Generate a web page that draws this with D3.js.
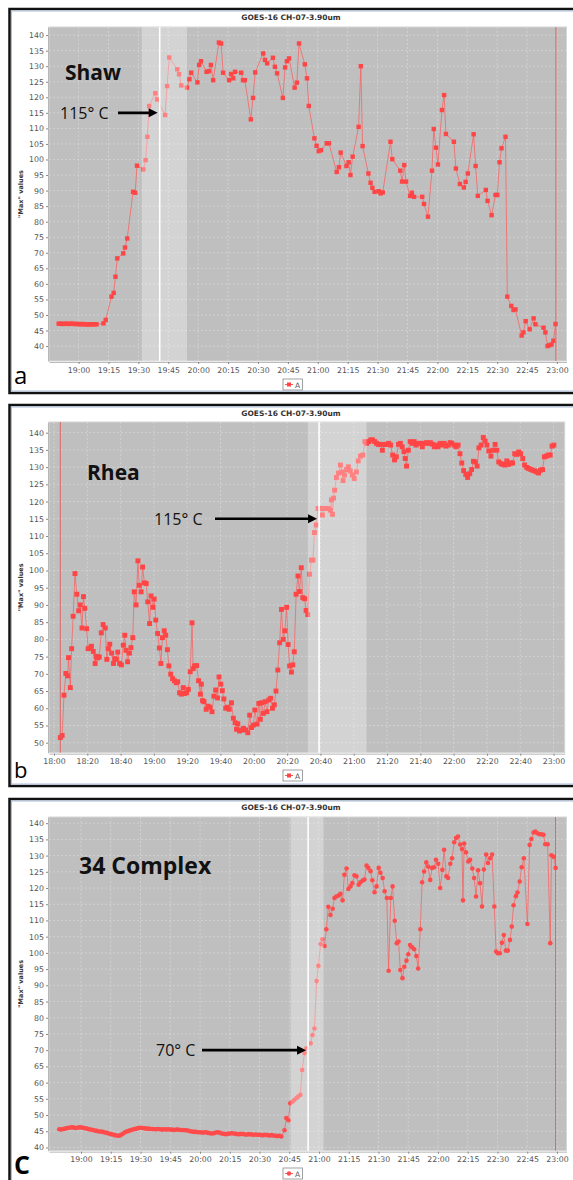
<!DOCTYPE html>
<html>
<head>
<meta charset="utf-8">
<script src="https://cdn.jsdelivr.net/npm/d3@7/dist/d3.min.js"></script>
<style>
  body { margin: 0; background: #fff; }
  svg text { font-family: "DejaVu Sans", sans-serif; }
</style>
</head>
<body>
<svg id="fig" width="573" height="1180"></svg>
<script>
// ---- data: minutes after 18:00 UTC, "Max" values ----
const shawMin = [50, 51, 52, 53, 54, 55, 56, 57, 58, 59, 60, 61, 62, 63, 64, 65, 66, 67, 68, 69,
  72.5, 73.6, 76.5, 77.6, 78.5, 79.4, 82.4, 83.3, 84.4, 87.3, 88.4, 89.3, 92.5, 93.6, 94.5, 95.4,
  98.5, 99.4, 103.4, 104.4, 105.5, 109.5, 110.4, 111.5, 114.4, 115.6, 116.5, 119.6, 120.5, 121.4,
  124.2, 125.4, 126.4, 127.5, 130.4, 131.5, 132.5, 135.5, 136.5, 137.6, 138.5, 141.6, 142.5, 143.4,
  146.4, 147.5, 148.6, 152.6, 153.5, 154.6, 157.5, 158.5, 159.6, 162.5, 163.6, 164.5, 165.6, 168.4,
  169.5, 170.6, 173.5, 174.6, 175.5, 178.3, 179.4, 180.5, 181.6, 184.5, 185.6, 189.5, 190.6, 191.5,
  194.4, 195.5, 196.4, 197.5, 200.5, 201.6, 202.5, 205.4, 206.5, 207.4, 208.5, 210.6, 211.5, 212.6,
  216.5, 217.4, 221.4, 222.3, 223.4, 224.3, 226.3, 227.2, 228.3, 232.4, 233.3, 235.3, 237.3, 238.2,
  239.3, 240.3, 242.3, 243.4, 244.3, 248.3, 249.3, 251.3, 253.3, 254.2, 255.3, 258.2, 259.2, 260.3,
  264.3, 265.2, 267.2, 269.2, 270.1, 271.2, 272.2, 274.2, 275.1, 277.1, 278.2, 279.2, 282.3, 283.2,
  284.3, 286.3, 288.3, 289.2, 293.3, 294.2, 295.3, 296.2, 297.3, 298.2, 299.3];
const shawVal = [47.2, 47.2, 47.1, 47.2, 47.2, 47.1, 47.2, 47.2, 47.1, 47.1, 47.1, 47.0, 47.1, 47.0, 47.0, 46.9, 47.0, 47.0, 47.0, 47.0,
  47.3, 48.4, 55.9, 57.1, 62.3, 68.2, 69.8, 71.7, 74.6, 89.6, 89.3, 98.0, 96.8, 99.8, 107.3, 117.2,
  121.3, 119.3, 114.3, 123.6, 132.8, 129.0, 127.4, 123.8, 123.1, 125.8, 127.9, 124.8, 130.4, 131.6,
  128.2, 128.4, 130.4, 125.5, 137.6, 137.3, 127.9, 125.5, 127.5, 126.1, 128.2, 127.9, 125.5, 125.5,
  112.9, 119.8, 128.0, 134.1, 132.0, 130.9, 132.7, 129.8, 127.7, 119.8, 129.6, 131.6, 132.5, 123.1,
  124.7, 137.3, 130.6, 126.1, 117.2, 106.8, 104.4, 102.7, 103.0, 105.2, 105.2, 96.0, 97.5, 102.2,
  97.9, 99.1, 95.0, 100.9, 110.5, 130.0, 104.3, 95.5, 92.5, 90.9, 89.6, 89.8, 89.1, 89.4,
  105.7, 100.1, 96.4, 92.9, 98.2, 92.9, 88.3, 89.3, 88.0, 88.0, 85.7, 81.6, 96.4, 109.8,
  103.8, 98.4, 115.9, 120.7, 108.2, 105.7, 97.1, 92.1, 91.0, 92.8, 95.5, 108.1, 97.9, 88.3,
  90.2, 86.7, 82.1, 88.6, 88.6, 99.1, 103.6, 107.3, 55.9, 52.9, 51.6, 51.8, 43.4, 44.4,
  48.0, 45.4, 48.9, 47.0, 45.9, 44.4, 40.0, 40.3, 40.5, 41.7, 47.1];

const rheaMin = [3.8, 4.9, 6.0, 7.1, 8.2, 8.7, 9.8, 10.6, 11.5, 12.6, 13.7, 14.8, 15.7, 16.8, 17.7, 18.5,
  19.6, 20.5, 21.6, 22.5, 23.6, 24.7, 25.3, 25.8, 26.4, 27.2, 28.4, 29.5, 30.8, 31.7, 32.6, 33.5,
  34.6, 35.7, 36.5, 37.4, 38.3, 39.4, 40.5, 41.6, 42.5, 43.3, 44.2, 45.3, 46.2, 47.3, 48.2, 49.3,
  50.4, 51.2, 52.3, 53.2, 54.3, 55.4, 56.3, 57.4, 58.3, 59.4, 60.2, 61.1, 62.2, 63.3, 64.2, 65.1,
  66.2, 67.1, 68.1, 69.0, 70.1, 71.2, 72.3, 73.4, 74.3, 75.4, 76.5, 77.6, 78.5, 79.6, 80.7, 81.8,
  82.9, 83.6, 84.4, 85.7, 86.8, 87.9, 88.5, 89.2, 90.1, 91.4, 92.5, 93.6, 94.9, 96.0, 97.1, 98.2,
  99.1, 100.2, 101.1, 102.0, 103.1, 104.2, 105.2, 106.6, 107.7, 108.8, 109.6, 110.4, 111.4, 112.7,
  113.8, 115.1, 116.4, 117.5, 118.6, 119.7, 120.6, 121.9, 123.0, 123.9, 124.6, 125.7, 126.8, 127.9,
  129.0, 130.1, 131.2, 132.3, 133.3, 134.4, 135.5, 136.6, 137.7, 138.6, 139.7, 140.6, 141.5, 142.6,
  143.4, 144.3, 145.4, 146.5, 147.4, 148.5, 149.4, 150.5, 151.4, 152.4, 153.5, 154.6, 155.5, 156.4,
  157.5, 158.6, 159.9, 161.2, 162.3, 163.6, 164.7, 166.0, 166.6, 167.2, 167.9, 168.5, 169.6, 170.9,
  172.0, 173.1, 173.6, 174.4, 175.7, 176.8, 177.9, 179.2, 180.3, 181.6, 182.7, 184.1, 185.4, 186.7,
  187.8, 188.9, 190.2, 191.3, 192.6, 193.7, 194.8, 196.1, 197.2, 198.6, 199.6, 201.0, 202.1, 203.4,
  204.5, 205.6, 206.9, 208.0, 209.1, 210.2, 210.9, 211.7, 212.8, 213.9, 215.2, 216.3, 217.4, 218.7,
  220.1, 221.2, 222.3, 223.6, 224.9, 226.0, 227.1, 228.4, 229.5, 230.6, 231.9, 233.0, 234.3, 235.4,
  236.8, 237.9, 238.9, 240.3, 241.4, 242.7, 243.8, 244.9, 246.0, 247.3, 248.4, 249.7, 250.8, 251.9,
  253.0, 254.1, 255.2, 256.5, 257.8, 258.9, 260.0, 261.1, 262.4, 263.5, 264.9, 265.9, 267.1, 268.4,
  269.5, 270.8, 271.9, 273.0, 274.3, 275.4, 276.7, 277.8, 279.1, 280.2, 281.5, 282.6, 283.9, 285.0,
  286.4, 287.5, 288.6, 289.9, 291.0, 292.1, 293.4, 294.5, 295.8, 296.9, 298.0, 299.1, 300.2];
const rheaVal = [51.5, 52.1, 63.8, 70.1, 69.4, 74.7, 66.0, 77.3, 86.7, 99.1, 93.1, 88.3, 90.0, 83.3, 92.4, 89.0,
  83.1, 77.3, 77.5, 78.0, 76.5, 73.0, 75.1, 74.6, 74.7, 74.9, 81.9, 84.3, 83.3, 74.2, 77.3, 78.6,
  76.0, 73.0, 74.4, 74.2, 76.3, 73.0, 72.6, 78.3, 81.2, 76.8, 73.5, 76.0, 77.6, 80.5, 93.8, 90.0,
  102.8, 95.7, 93.8, 101.0, 96.4, 96.2, 90.9, 84.6, 92.6, 89.3, 91.7, 85.6, 81.7, 77.5, 73.0, 80.5,
  82.5, 81.2, 77.0, 72.3, 69.9, 68.6, 68.0, 67.4, 67.7, 64.5, 64.1, 66.0, 64.3, 64.5, 65.5, 70.6,
  84.8, 71.5, 72.3, 72.4, 68.0, 64.1, 67.0, 62.2, 61.9, 59.7, 60.6, 60.3, 59.0, 63.5, 65.3, 63.0,
  69.1, 67.0, 65.1, 62.7, 60.0, 60.3, 59.7, 61.6, 57.1, 55.8, 53.9, 55.5, 53.4, 53.7,
  54.2, 53.7, 52.9, 58.0, 54.4, 55.1, 59.5, 55.4, 61.4, 56.8, 61.6, 58.5, 61.9, 59.0,
  62.4, 62.9, 60.0, 61.0, 65.0, 71.1, 79.0, 88.7, 80.0, 82.5, 89.3, 78.5, 72.3, 70.5,
  72.6, 76.4, 93.1, 98.4, 93.9, 100.8, 92.1, 91.8, 88.4, 87.2, 98.9, 103.0, 103.0, 111.0,
  113.2, 118.0, 118.0, 116.1, 118.0, 118.0, 118.0, 117.5, 120.5, 116.3, 121.0, 123.3, 127.0, 128.3,
  130.6, 128.6, 126.1, 127.7, 129.3, 130.1, 128.9, 127.7, 126.7, 128.6, 131.8, 133.2, 133.5, 137.4,
  136.9, 137.4, 137.9, 137.9, 137.4, 136.9, 136.6, 136.6, 134.9, 136.6, 136.6, 136.9, 136.4, 133.5,
  132.1, 133.0, 136.6, 136.9, 135.9, 134.5, 132.5, 130.3, 134.9, 137.4, 136.9, 137.4, 136.4, 136.9,
  136.9, 135.9, 136.9, 137.1, 136.9, 137.1, 136.7, 135.9, 136.4, 135.9, 136.9, 136.4, 136.9, 136.1,
  136.4, 137.1, 136.9, 136.4, 135.9, 136.4, 133.9, 131.2, 129.0, 127.9, 127.0, 128.1, 129.3, 131.7,
  131.5, 130.3, 135.6, 136.4, 138.6, 137.6, 136.4, 134.7, 133.2, 134.9, 136.6, 134.9, 131.5, 131.0,
  130.8, 130.6, 131.8, 130.8, 131.2, 131.2, 133.9, 133.7, 134.4, 133.9, 132.5, 130.6, 129.9, 129.6,
  129.3, 129.1, 128.9, 128.6, 128.3, 129.1, 129.3, 133.0, 133.2, 133.5, 133.5, 136.1, 136.4];

const complexMin = [49, 50, 51, 52, 53, 54, 55, 56, 57, 58, 59, 60, 61, 62, 63, 64, 65, 66, 67, 68,
  69, 70, 71, 72, 73, 74, 75, 76, 77, 78, 79, 80, 81, 82, 83, 84, 85, 86, 87, 88,
  89, 90, 91, 92, 93, 94, 95, 96, 97, 98, 99, 100, 101, 102, 103, 104, 105, 106, 107, 108,
  109, 110, 111, 112, 113, 114, 115, 116, 117, 118, 119, 120, 121, 122, 123, 124, 125, 126, 127, 128,
  129, 130, 131, 132, 133, 134, 135, 136, 137, 138, 139, 140, 141, 142, 143, 144, 145, 146, 147, 148,
  149, 150, 151, 152, 153, 154, 155, 156, 157, 158, 159, 160, 161,
  162.6, 163.5, 164.6, 165.5, 166.6, 167.5, 168.6, 169.5, 170.6, 171.5, 172.7, 173.6, 175.8, 176.7,
  177.7, 178.8, 179.7, 180.8, 181.7, 182.8, 183.7, 184.7, 185.8, 186.9, 187.8, 188.7, 189.9, 190.8,
  191.9, 192.8, 193.9, 194.8, 195.9, 196.8, 197.9, 198.9, 200.0, 200.9, 202.0, 202.9, 204.0, 204.9,
  206.0, 206.9, 208.0, 209.0, 210.1, 211.0, 212.1, 213.1, 214.2, 215.1, 216.2, 217.1, 218.2, 219.2,
  220.1, 221.0, 222.1, 223.0, 224.1, 225.0, 225.9, 227.0, 228.0, 229.1, 230.0, 231.1, 232.0, 233.0,
  234.1, 235.0, 236.1, 237.0, 238.1, 239.0, 240.1, 241.1, 242.2, 243.1, 244.2, 245.1, 246.2, 247.1,
  248.2, 249.1, 250.1, 251.2, 252.1, 252.6, 253.2, 254.1, 255.3, 256.2, 257.3, 258.2, 259.2, 260.2,
  261.2, 262.2, 263.1, 264.3, 265.2, 266.3, 267.3, 268.4, 269.3, 270.2, 271.2, 272.2, 273.2, 274.2,
  275.2, 276.3, 277.2, 278.1, 279.3, 280.1, 281.2, 282.2, 283.3, 285.1, 286.2, 287.1, 288.2, 289.1,
  290.1, 291.2, 292.1, 293.2, 294.1, 295.3, 296.6, 297.2, 298.4, 299.3];
const complexVal = [45.6, 45.5, 45.7, 45.8, 46.0, 46.1, 46.2, 46.2, 46.0, 46.1, 46.2, 46.2, 46.1, 45.9, 45.8, 45.6, 45.5, 45.4, 45.2, 45.1,
  44.9, 44.9, 44.8, 44.6, 44.5, 44.3, 44.1, 44.0, 43.8, 43.7, 43.6, 43.8, 44.2, 44.6, 44.9, 45.1, 45.3, 45.5, 45.7, 45.8,
  46.0, 46.1, 46.0, 45.9, 45.8, 45.8, 45.7, 45.7, 45.6, 45.6, 45.7, 45.6, 45.5, 45.6, 45.5, 45.6, 45.5, 45.5, 45.4, 45.5,
  45.5, 45.4, 45.4, 45.3, 45.3, 45.2, 45.0, 44.9, 44.8, 44.8, 44.7, 44.7, 44.6, 44.6, 44.7, 44.5, 44.4, 44.3, 44.4, 44.6,
  44.7, 44.5, 44.3, 44.2, 44.1, 44.2, 44.3, 44.4, 44.3, 44.2, 44.1, 44.1, 44.2, 44.1, 44.0, 44.0, 44.1, 44.0, 43.9, 44.0,
  43.9, 43.9, 43.8, 43.8, 43.9, 43.8, 43.7, 43.8, 43.7, 43.6, 43.5, 43.6, 43.4,
  45.3, 49.1, 48.4, 53.6, 54.1, 54.6, 55.2, 55.7, 56.2, 63.9, 69.1, 70.6, 72.1, 74.7,
  76.7, 91.3, 96.0, 102.7, 104.2, 102.1, 107.3, 114.2, 111.7, 113.6, 116.9, 117.4, 117.7, 118.2,
  116.2, 124.1, 126.0, 119.7, 120.5, 121.5, 123.9, 123.6, 121.0, 121.8, 122.3, 122.6, 126.9, 126.2,
  125.2, 122.4, 118.7, 120.5, 126.2, 124.7, 123.1, 119.0, 116.9, 94.5, 116.9, 120.5, 109.9, 103.0,
  103.5, 94.7, 92.2, 95.7, 97.6, 99.6, 102.4, 101.7, 101.1, 99.0, 95.2, 107.3, 121.8, 125.1,
  127.9, 126.6, 122.5, 126.2, 126.4, 128.7, 127.5, 120.0, 125.6, 131.8, 123.6, 123.1, 127.5, 129.2,
  134.1, 135.4, 135.9, 133.4, 132.0, 116.2, 133.7, 131.0, 128.2, 128.7, 126.0, 123.1, 117.4, 125.5,
  121.5, 114.3, 125.7, 130.3, 127.7, 129.2, 130.3, 114.3, 100.4, 99.9, 99.9, 103.1, 105.5, 100.7,
  100.7, 104.0, 108.1, 114.7, 117.5, 118.6, 122.0, 126.4, 129.2, 108.9, 133.3, 135.1, 137.1, 137.4,
  136.9, 136.6, 136.6, 136.4, 133.5, 133.5, 103.0, 130.1, 129.6, 126.2];

// tick labels
const ticks15 = ["19:00", "19:15", "19:30", "19:45", "20:00", "20:15", "20:30", "20:45", "21:00",
  "21:15", "21:30", "21:45", "22:00", "22:15", "22:30", "22:45", "23:00"];
const ticks20 = ["18:00", "18:20", "18:40", "19:00", "19:20", "19:40", "20:00", "20:20", "20:40",
  "21:00", "21:20", "21:40", "22:00", "22:20", "22:40", "23:00"];
const yTicks40 = [40, 45, 50, 55, 60, 65, 70, 75, 80, 85, 90, 95, 100, 105, 110, 115, 120, 125, 130, 135, 140];
const yTicks50 = [50, 55, 60, 65, 70, 75, 80, 85, 90, 95, 100, 105, 110, 115, 120, 125, 130, 135, 140];

const svg = d3.select("#fig");
const base = Date.UTC(1900, 0, 1, 18, 0);
const toDate = m => new Date(base + m * 60000);
const parseHM = d3.utcParse("%H:%M");
const fmt = d3.utcFormat("%H:%M");

function drawPanel(p) {
  const g = svg.append("g");
  const x = d3.scaleUtc()
    .domain([toDate(p.xDomain[0]), toDate(p.xDomain[1])])
    .range([p.left, p.right]);
  const y = d3.scaleLinear().domain(p.yDomain).range([p.bottom, p.top]);

  // screenshot frame
  g.append("rect")
    .attr("x", 9.5).attr("y", p.frameTop)
    .attr("width", 566).attr("height", p.frameBottom - p.frameTop)
    .attr("fill", "#fff").attr("stroke", "#111").attr("stroke-width", 2.5);
  g.append("rect")
    .attr("x", 11.5).attr("y", p.frameTop + 2)
    .attr("width", 562).attr("height", p.frameBottom - p.frameTop - 4)
    .attr("fill", "none").attr("stroke", "#a9bddc").attr("stroke-width", 1);

  g.append("text")
    .attr("x", 291).attr("y", p.frameTop + 11)
    .attr("text-anchor", "middle")
    .style("font-size", "7.5px").style("font-weight", "bold").style("fill", "#333")
    .text("GOES-16 CH-07-3.90um");

  // plot background
  g.append("rect")
    .attr("x", p.left).attr("y", p.top)
    .attr("width", p.right - p.left).attr("height", p.bottom - p.top)
    .attr("fill", "#bfbfbf").attr("stroke", "#d6d6d6").attr("stroke-width", 1);

  const xTickDates = p.xTicks.map(s => toDate((parseHM(s) - parseHM("18:00")) / 60000));

  // grid
  g.append("g").selectAll("line").data(xTickDates).join("line")
    .attr("x1", d => x(d)).attr("x2", d => x(d))
    .attr("y1", p.top).attr("y2", p.bottom)
    .attr("stroke", "#d9d9d9").attr("stroke-width", 0.7).attr("stroke-dasharray", "2,2");
  g.append("g").selectAll("line").data(p.yTicks).join("line")
    .attr("x1", p.left).attr("x2", p.right)
    .attr("y1", d => y(d)).attr("y2", d => y(d))
    .attr("stroke", "#d9d9d9").attr("stroke-width", 0.7).attr("stroke-dasharray", "2,2");

  // series
  const pts = p.times.map((m, i) => [x(toDate(m)), y(p.values[i])]);
  g.append("path")
    .attr("d", d3.line()(pts))
    .attr("fill", "none").attr("stroke", "#ff5a5a").attr("stroke-width", 0.9).attr("stroke-opacity", 0.8);
  const s = p.markerSize;
  if (p.circles) {
    g.append("g").selectAll("circle").data(pts).join("circle")
      .attr("cx", d => d[0]).attr("cy", d => d[1]).attr("r", s / 2)
      .attr("fill", "#ff4b4b");
  } else {
    g.append("g").selectAll("rect").data(pts).join("rect")
      .attr("x", d => d[0] - s / 2).attr("y", d => d[1] - s / 2)
      .attr("width", s).attr("height", s)
      .attr("fill", "#ff4545");
  }

  // interval marker (foreground) and its white line
  g.append("rect")
    .attr("x", x(toDate(p.band[0]))).attr("y", p.top)
    .attr("width", x(toDate(p.band[1])) - x(toDate(p.band[0])))
    .attr("height", p.bottom - p.top)
    .attr("fill", "#fff").attr("fill-opacity", 0.32);
  g.append("line")
    .attr("x1", x(toDate(p.whiteLine))).attr("x2", x(toDate(p.whiteLine)))
    .attr("y1", p.top).attr("y2", p.bottom)
    .attr("stroke", "#fff").attr("stroke-width", 1.6);
  g.append("line")
    .attr("x1", x(toDate(p.redLine))).attr("x2", x(toDate(p.redLine)))
    .attr("y1", p.top).attr("y2", p.bottom)
    .attr("stroke", "#e25a5a").attr("stroke-width", 0.9);

  // axes
  const ya = g.append("g")
    .attr("transform", `translate(${p.left - 1},0)`)
    .call(d3.axisLeft(y).tickValues(p.yTicks).tickSize(2).tickPadding(2).tickSizeOuter(0));
  const xa = g.append("g")
    .attr("transform", `translate(0,${p.bottom + 1})`)
    .call(d3.axisBottom(x).tickValues(xTickDates).tickFormat(fmt).tickSize(2).tickPadding(3).tickSizeOuter(0));
  [ya, xa].forEach(a => {
    a.select(".domain").attr("stroke", "#aaa").attr("stroke-width", 0.8);
    a.selectAll(".tick line").attr("stroke", "#888");
    a.selectAll("text").style("font-size", "7.8px").style("fill", "#555")
      .style("font-family", "'DejaVu Sans', sans-serif");
  });

  g.append("text")
    .attr("transform", `translate(23,${(p.top + p.bottom) / 2}) rotate(-90)`)
    .attr("text-anchor", "middle")
    .style("font-size", "6.5px").style("font-weight", "bold").style("fill", "#333")
    .text('"Max" values');

  // legend
  const lg = g.append("g").attr("transform", `translate(283,${p.legendTop})`);
  lg.append("rect").attr("width", 19.5).attr("height", 11)
    .attr("fill", "#fff").attr("stroke", "#8a8a8a").attr("stroke-width", 0.8);
  lg.append("line").attr("x1", 2).attr("x2", 10).attr("y1", 5.5).attr("y2", 5.5)
    .attr("stroke", "#ff5a5a").attr("stroke-width", 1);
  if (p.circles) {
    lg.append("circle").attr("cx", 6).attr("cy", 5.5).attr("r", 2.2).attr("fill", "#ff4b4b");
  } else {
    lg.append("rect").attr("x", 4).attr("y", 3.5).attr("width", 4).attr("height", 4).attr("fill", "#ff4545");
  }
  lg.append("text").attr("x", 12).attr("y", 8.6)
    .style("font-size", "7.5px").style("fill", "#555").text("A");

  // annotations
  g.append("text")
    .attr("x", p.nameX).attr("y", p.nameY)
    .style("font-family", "'Open Sans', sans-serif").style("font-weight", 700)
    .style("font-size", p.nameSize + "px").style("fill", "#111")
    .text(p.name);
  const ay = y(p.arrowValue);
  const tipX = x(toDate(p.whiteLine)) - 2;
  g.append("text")
    .attr("x", p.noteX).attr("y", ay + 6)
    .style("font-family", "'Open Sans', sans-serif")
    .style("font-size", "16px").style("fill", "#111")
    .text(p.note);
  g.append("line")
    .attr("x1", p.arrowStart).attr("x2", tipX - 7)
    .attr("y1", ay).attr("y2", ay)
    .attr("stroke", "#000").attr("stroke-width", 2.6);
  g.append("path")
    .attr("d", `M${tipX},${ay} L${tipX - 9},${ay - 4.5} L${tipX - 9},${ay + 4.5} Z`)
    .attr("fill", "#000");

  g.append("text")
    .attr("x", 14).attr("y", p.letterY)
    .style("font-family", "'Open Sans', sans-serif")
    .style("font-size", p.letterSize + "px").style("font-weight", p.letterWeight)
    .style("fill", "#000")
    .text(p.letter);
}

drawPanel({
  frameTop: 9, frameBottom: 393,
  left: 49, right: 566.5, top: 27, bottom: 361,
  xDomain: [45.15, 304.8], yDomain: [35.2, 142.6],
  xTicks: ticks15, yTicks: yTicks40,
  times: shawMin, values: shawVal, circles: false, markerSize: 4.4,
  band: [91.7, 114.4], whiteLine: 100.7, redLine: 299.5,
  legendTop: 379,
  name: "Shaw", nameX: 65, nameY: 80, nameSize: 21,
  note: "115° C", noteX: 60, arrowStart: 118, arrowValue: 115,
  letter: "a", letterY: 384, letterSize: 24, letterWeight: 400
});

drawPanel({
  frameTop: 405, frameBottom: 786,
  left: 49, right: 564.7, top: 422, bottom: 752.7,
  xDomain: [-3.0, 306.7], yDomain: [47.1, 143.1],
  xTicks: ticks20, yTicks: yTicks50,
  times: rheaMin, values: rheaVal, circles: false, markerSize: 4.9,
  band: [152.4, 187.7], whiteLine: 159.2, redLine: 3.8,
  legendTop: 770,
  name: "Rhea", nameX: 87, nameY: 480, nameSize: 21,
  note: "115° C", noteX: 154, arrowStart: 215, arrowValue: 115,
  letter: "b", letterY: 778, letterSize: 22, letterWeight: 400
});

drawPanel({
  frameTop: 799, frameBottom: 1200,
  left: 49, right: 566.5, top: 817, bottom: 1150.7,
  xDomain: [43.86, 304.8], yDomain: [39.0, 141.9],
  xTicks: ticks15, yTicks: yTicks40,
  times: complexMin, values: complexVal, circles: true, markerSize: 4.6,
  band: [165.7, 182.3], whiteLine: 174.5, redLine: 299.3,
  legendTop: 1168,
  name: "34 Complex", nameX: 79, nameY: 874, nameSize: 23,
  note: "70° C", noteX: 156, arrowStart: 202, arrowValue: 70,
  letter: "C", letterY: 1174, letterSize: 25, letterWeight: 700
});
</script>
</body>
</html>
